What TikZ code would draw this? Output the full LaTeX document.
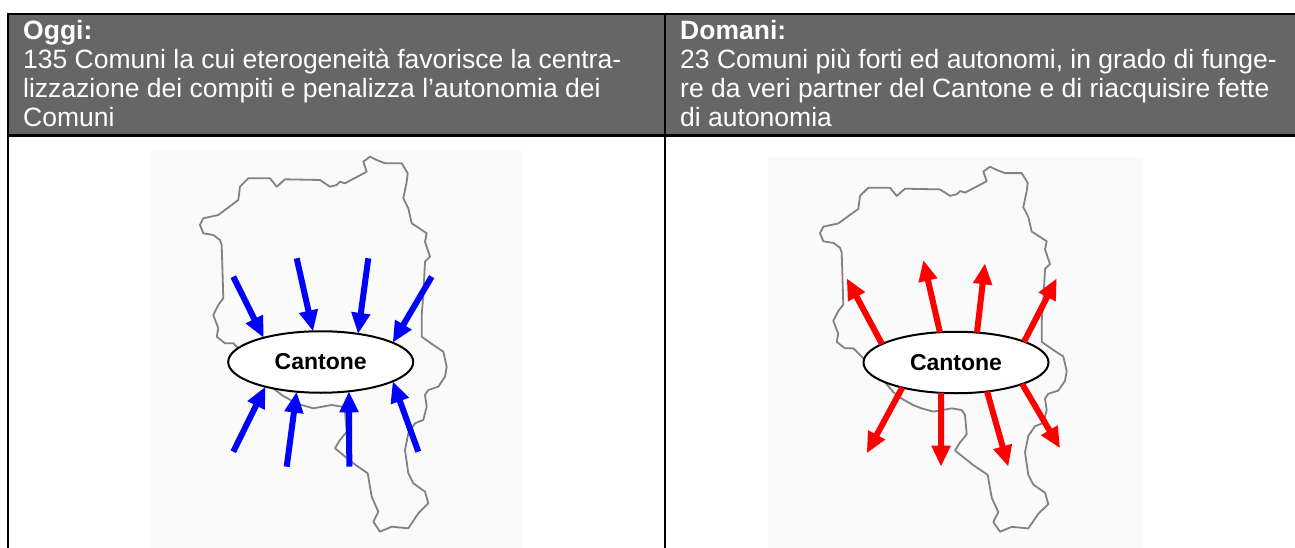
\documentclass[tikz,border=0pt]{standalone}
\usepackage{fontspec}
\setmainfont{Liberation Sans}
\usetikzlibrary{arrows.meta,shapes.geometric}

\definecolor{headgray}{RGB}{102,102,102}
\definecolor{mapbg}{RGB}{249,250,249}
\definecolor{mapgray}{RGB}{130,130,130}

% outline of the canton, in pixel coordinates of the left panel
\newcommand{\ticinoborder}{(370,156.7) -- (376.7,160) -- (385,163.3) -- (401.7,163.3) -- (407.7,173.3) -- (406.7,181.7) -- (403.3,198.3) -- (408.3,208.3) -- (411.7,223.3) -- (426.7,233.3) -- (425,241.7) -- (430,256.7) -- (425,261.7) -- (423.3,295) -- (421.7,315) -- (421.7,336.7) -- (433.3,345) -- (443.3,351.7) -- (446.7,366.7) -- (445,376.7) -- (438.3,386.7) -- (428.3,390) -- (425,395) -- (426.7,406.7) -- (423.3,420) -- (415,423.3) -- (408.3,433.3) -- (405,450) -- (408.3,473.3) -- (413.3,483.3) -- (425,491.7) -- (428.3,503.3) -- (418.3,513.3) -- (408.3,528.3) -- (391.7,526.7) -- (380,531.7) -- (373.3,521.7) -- (378.3,511.7) -- (371.7,496.7) -- (367.7,473.3) -- (353.3,463.3) -- (335,448.3) -- (340,440) -- (346.7,431.7) -- (345,411.7) -- (341.7,406.7) -- (331.7,405) -- (313.3,408.3) -- (301.7,405) -- (293.3,401.7) -- (281.7,395) -- (273.3,388.3) -- (250,360) -- (233.3,343.3) -- (225,343.3) -- (216.7,336.7) -- (218.3,328.3) -- (213.3,315) -- (218.3,305) -- (223.3,298.3) -- (221.7,245) -- (220,240) -- (213.3,235) -- (203.3,233.3) -- (200,225) -- (203.3,218.3) -- (218.3,215) -- (238.3,200) -- (240,186.7) -- (248.3,178.3) -- (270,178.3) -- (276.7,186.7) -- (285,179.3) -- (320,180) -- (330,186.7) -- (336.7,185) -- (340,181.7) -- (345,183.3) -- (366.7,171.7) -- (363.3,161.7) -- cycle}

\tikzset{
  headtext/.style={anchor=north west, align=left, inner sep=0pt, text=white,
    font=\fontsize{26.5}{29}\selectfont},
  mapline/.style={draw=mapgray, line width=1.8pt, line join=round},
  cantone/.style={ellipse, draw=black, line width=2pt, fill=white,
    minimum width=185pt, minimum height=61.5pt, inner sep=0pt, outer sep=0pt,
    font=\fontsize{23}{27}\selectfont\bfseries},
  inarrow/.style={blue, line width=6pt, -{Triangle[length=21pt,width=18pt]}},
  outarrow/.style={red, line width=6pt, -{Triangle[length=21pt,width=18pt]}}
}

\begin{document}
\begin{tikzpicture}[x=1pt,y=-1pt]
        \useasboundingbox (0,0) rectangle (1295,548);

        % table
        \fill [headgray] (8,14) rectangle (1296,135.5);
        \draw [line width=2.5pt] (8,14) -- (1296,14);
        \draw [line width=2.5pt] (8,135.5) -- (1296,135.5);
        \draw [line width=2.5pt] (8,12.8) -- (8,549);
        \draw [line width=2.5pt] (665,12.8) -- (665,549);

        \node [headtext] (oggi) at (23,20.5)
          {\textbf{Oggi:}\\135 Comuni la cui eterogeneità favorisce la centra-\\lizzazione dei compiti e penalizza l’autonomia dei\\Comuni};
        \node [headtext] (domani) at (680,20.5)
          {\textbf{Domani:}\\23 Comuni più forti ed autonomi, in grado di funge-\\re da veri partner del Cantone e di riacquisire fette\\di autonomia};

        % maps
        \fill [mapbg] (150,150) rectangle (523,548);
        \fill [mapbg] (768,157) rectangle (1143,548);
        \draw [mapline] \ticinoborder;
        \begin{scope}[shift={(620,14.2)},yscale=0.9733]
          \draw [mapline] \ticinoborder;
        \end{scope}

        \node [cantone] (cantoneL) at (320.7,362) {Cantone};
        \node [cantone] (cantoneR) at (956,362.5) {Cantone};

        % today: towards the canton
        \foreach \tx/\ty/\ang [count=\i] in {233.3/276.7/157, 296.7/258.3/104,
          368.3/258.3/37, 431.7/276.7/15, 233.3/451.7/204, 286.7/466.7/231,
          349.3/466.7/314, 418.3/451.7/345}
        {
          \coordinate (inL\i) at (\tx,\ty);
          \draw [inarrow] (inL\i) -- (cantoneL.\ang);
        }

        % tomorrow: away from the canton
        \foreach \hx/\hy/\ang [count=\i] in {846.7/278.3/166, 923.3/260/118,
          985/263.3/55, 1056.7/278.3/17, 866.7/453.3/205, 941/466.7/244,
          1008.3/466.7/317, 1060/448.3/342}
        {
          \coordinate (outR\i) at (\hx,\hy);
          \draw [outarrow] (cantoneR.\ang) -- (outR\i);
        }
      \end{tikzpicture}
\end{document}
